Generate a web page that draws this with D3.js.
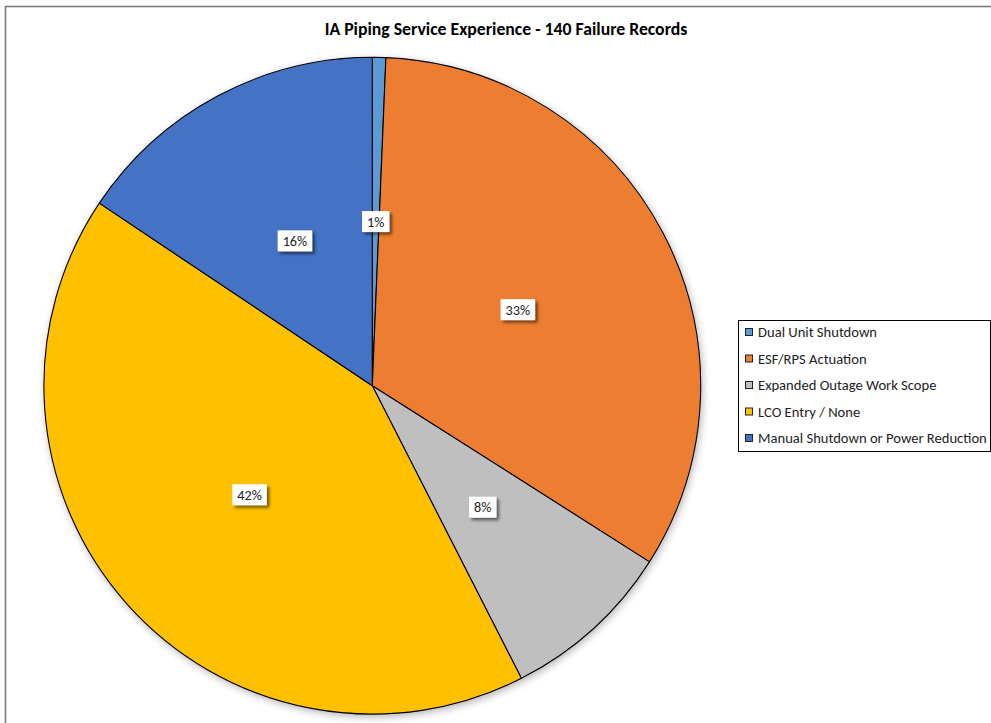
<!DOCTYPE html>
<html>
<head>
<meta charset="utf-8">
<script src="https://cdn.jsdelivr.net/npm/d3@7"></script>
<style>
  html, body { margin: 0; padding: 0; background: #fff; }
  svg { display: block; }
  text { font-family: Carlito, Calibri, Lato, "Open Sans", sans-serif; }
</style>
</head>
<body>
<svg id="chart" width="991" height="723"></svg>
<script>
// Share of failure records by consequence category (percent of total)
const categories = [
  "Dual Unit Shutdown",
  "ESF/RPS Actuation",
  "Expanded Outage Work Scope",
  "LCO Entry / None",
  "Manual Shutdown or Power Reduction"
];
const shares = [0.66, 33.35, 8.49, 41.88, 15.62];
const colors = ["#5B9BD5", "#ED7D31", "#BFBFBF", "#FFC000", "#4472C4"];
const titleText = "IA Piping Service Experience - 140 Failure Records";

const svg = d3.select("#chart");
const W = 991, H = 723;

const defs = svg.append("defs");
const pieShadow = defs.append("filter").attr("id", "pieShadow")
  .attr("x", "-10%").attr("y", "-10%").attr("width", "120%").attr("height", "120%");
pieShadow.append("feGaussianBlur").attr("stdDeviation", 4.5);

const boxShadow = defs.append("filter").attr("id", "boxShadow")
  .attr("x", "-30%").attr("y", "-30%").attr("width", "170%").attr("height", "170%");
boxShadow.append("feDropShadow")
  .attr("dx", 2.5).attr("dy", 2.5).attr("stdDeviation", 1.6)
  .attr("flood-color", "#000").attr("flood-opacity", 0.55);

// chart area frame
svg.append("rect")
  .attr("x", 5.5).attr("y", 6.5)
  .attr("width", W + 20).attr("height", H + 20)
  .attr("fill", "#fff").attr("stroke", "#7a7a7a").attr("stroke-width", 1.6);

// title, fitted to its span
const title = svg.append("text")
  .attr("x", 506).attr("y", 35)
  .attr("text-anchor", "middle")
  .attr("font-weight", "bold")
  .attr("font-size", 14.5)
  .attr("fill", "#000")
  .text(titleText);
const tw = title.node().getComputedTextLength();
title.attr("font-size", 14.5 * 363 / tw);

// pie
const cx = 372.3, cy = 385.7, R = 328.4;
const g = svg.append("g").attr("transform", `translate(${cx},${cy})`);

g.append("circle")
  .attr("cx", 1.5).attr("cy", 2.5).attr("r", R)
  .attr("fill", "#000").attr("opacity", 0.32)
  .attr("filter", "url(#pieShadow)");

const pie = d3.pie().sort(null).value(d => d.v)
  .startAngle(0).endAngle(2 * Math.PI);
const arc = d3.arc().innerRadius(0).outerRadius(R);
const total = d3.sum(shares);
const rows = categories.map((c, i) => ({ c, v: shares[i], color: colors[i] }));
const arcs = pie(rows);

g.selectAll("path.slice").data(arcs).join("path")
  .attr("class", "slice")
  .attr("d", arc)
  .attr("fill", d => d.data.color)
  .attr("stroke", "#000")
  .attr("stroke-width", 1.1)
  .attr("stroke-linejoin", "round");

// data labels
const fmt = d => Math.round(d.data.v / total * 100) + "%";
const lab = g.selectAll("g.lab").data(arcs).join("g")
  .attr("class", "lab")
  .attr("transform", d => `translate(${arc.centroid(d)})`);
lab.append("text")
  .attr("text-anchor", "middle")
  .attr("dy", "0.36em")
  .attr("font-size", 14.2)
  .attr("fill", "#222")
  .text(fmt);
lab.each(function() {
  const t = d3.select(this).select("text");
  const w = t.node().getComputedTextLength() + 10;
  d3.select(this).insert("rect", "text")
    .attr("x", -w / 2).attr("y", -10.5)
    .attr("width", w).attr("height", 21)
    .attr("fill", "#fff")
    .attr("filter", "url(#boxShadow)");
});

// legend
const lgX = 738.5, lgY = 320.5, lgW = 252, lgH = 131;
const legend = svg.append("g");
legend.append("rect")
  .attr("x", lgX).attr("y", lgY).attr("width", lgW).attr("height", lgH)
  .attr("fill", "#fff").attr("stroke", "#000").attr("stroke-width", 1);
const ly = d3.scalePoint().domain(categories).range([332, 438]);
const item = legend.selectAll("g.item").data(rows).join("g")
  .attr("class", "item")
  .attr("transform", d => `translate(${lgX}, ${ly(d.c)})`);
item.append("rect")
  .attr("x", 7).attr("y", -3.5).attr("width", 7).attr("height", 7)
  .attr("fill", d => d.color).attr("stroke", "#222").attr("stroke-width", 1);
const itemText = item.append("text")
  .attr("x", 19.5).attr("dy", "0.36em")
  .attr("font-size", 13)
  .attr("fill", "#222")
  .text(d => d.c);
// size legend text so the longest entry spans the box
const longest = d3.max(itemText.nodes(), n => n.getComputedTextLength());
itemText.attr("font-size", 13 * 229 / longest);
</script>
</body>
</html>
